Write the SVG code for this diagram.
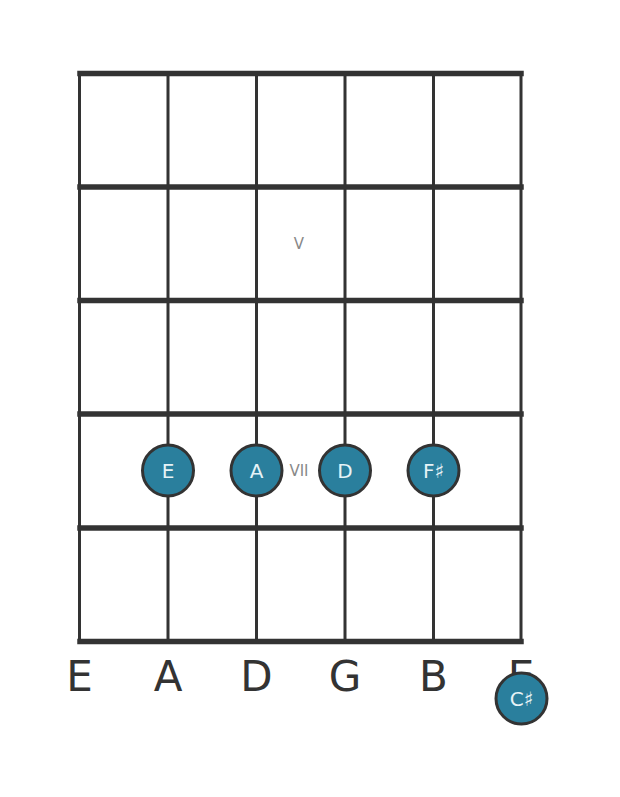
<svg xmlns="http://www.w3.org/2000/svg" width="620" height="797" viewBox="0 0 620 797">
<style>
.fret{stroke:#333;stroke-width:5.5;stroke-linecap:square}
.str{stroke:#333;stroke-width:3}
.note circle{fill:#2a7f9d;stroke:#333;stroke-width:3}
.note text{fill:#e6f3f7;font-family:"DejaVu Sans",sans-serif;font-size:20px;text-anchor:middle;dominant-baseline:central}
.pos{fill:#888;font-family:"DejaVu Sans",sans-serif;font-size:15px;text-anchor:middle;dominant-baseline:central}
.lbl{fill:#333;font-family:"DejaVu Sans",sans-serif;font-size:42px;text-anchor:middle}
</style>
<rect width="620" height="797" fill="#fff"/>
<g id="grid">
<line class="str" x1="79.5" y1="73" x2="79.5" y2="641"/>
<line class="str" x1="168" y1="73" x2="168" y2="641"/>
<line class="str" x1="256.5" y1="73" x2="256.5" y2="641"/>
<line class="str" x1="345" y1="73" x2="345" y2="641"/>
<line class="str" x1="433.5" y1="73" x2="433.5" y2="641"/>
<line class="str" x1="521" y1="73" x2="521" y2="641"/>
<line class="fret" x1="80" y1="73.5" x2="521" y2="73.5"/>
<line class="fret" x1="80" y1="187" x2="521" y2="187"/>
<line class="fret" x1="80" y1="300.5" x2="521" y2="300.5"/>
<line class="fret" x1="80" y1="414" x2="521" y2="414"/>
<line class="fret" x1="80" y1="528" x2="521" y2="528"/>
<line class="fret" x1="80" y1="641.5" x2="521" y2="641.5"/>
</g>
<g id="positions">
<text class="pos" x="299" y="244">V</text>
<text class="pos" x="299" y="471">VII</text>
</g>
<g id="labels">
<text class="lbl" x="79.5" y="691">E</text>
<text class="lbl" x="168" y="691">A</text>
<text class="lbl" x="256.5" y="691">D</text>
<text class="lbl" x="345" y="691">G</text>
<text class="lbl" x="433.5" y="691">B</text>
<text class="lbl" x="521" y="691">E</text>
</g>
<g id="connectors"></g>
<g id="note-E" class="note"><circle cx="168" cy="470.5" r="25.5"/><text x="168" y="470.5">E</text></g>
<g id="note-A" class="note"><circle cx="256.5" cy="470.5" r="25.5"/><text x="256.5" y="470.5">A</text></g>
<g id="note-D" class="note"><circle cx="345" cy="470.5" r="25.5"/><text x="345" y="470.5">D</text></g>
<g id="note-Fs" class="note"><circle cx="433.5" cy="470.5" r="25.5"/><text x="433.5" y="470.5">F♯</text></g>
<g id="note-Cs" class="note"><circle cx="521.5" cy="698.5" r="25.5"/><text x="521.5" y="698.5">C♯</text></g>
</svg>
